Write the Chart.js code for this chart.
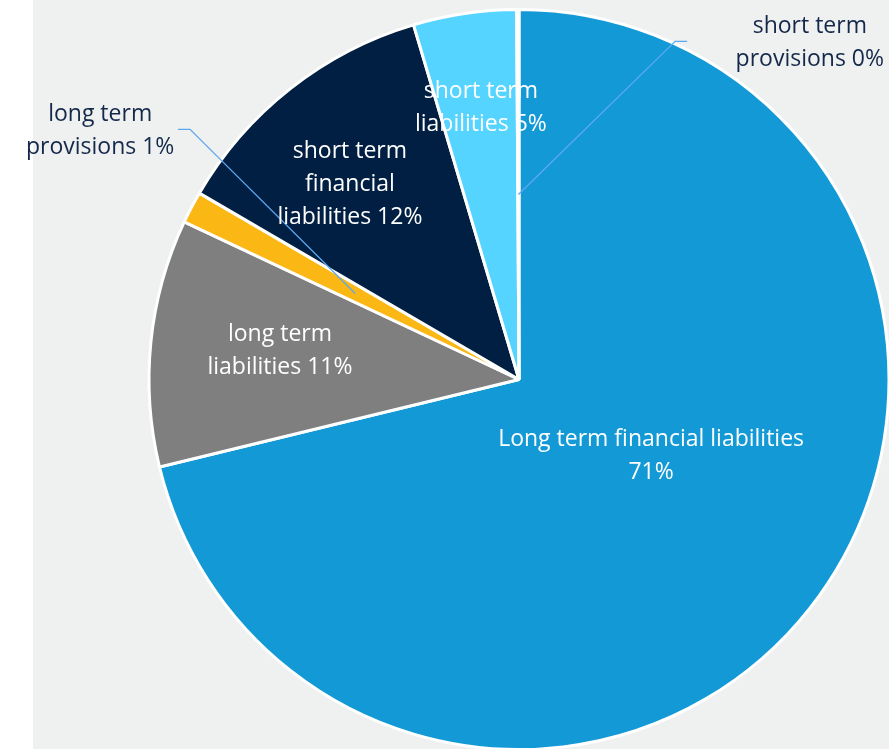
<!DOCTYPE html>
<html>
<head>
<meta charset="utf-8">
<script src="https://cdn.jsdelivr.net/npm/chart.js@4"></script>
<style>
  html, body { margin: 0; padding: 0; background: #ffffff; }
  #wrap { width: 889px; height: 749px; position: relative; }
</style>
</head>
<body>
<div id="wrap"><canvas id="graph" width="889" height="749"></canvas></div>
<script>
// categories + values (percent of total liabilities)
const categories = [
  'Long term financial liabilities',
  'long term liabilities',
  'long term provisions',
  'short term financial liabilities',
  'short term liabilities',
  'short term provisions'
];
const shares = [71.2, 10.8, 1.4, 12.0, 4.5, 0.1];
const colours = ['#139ad6', '#7f7f7f', '#fbb713', '#001f42', '#55d4ff', '#e46c0a'];

// label text split in lines (last line gets the percent)
const labelLines = [
  ['Long term financial liabilities'],
  ['long term', 'liabilities'],
  ['long term', 'provisions'],
  ['short term', 'financial', 'liabilities'],
  ['short term', 'liabilities'],
  ['short term', 'provisions']
];

// where each label sits, as fraction of the radius from the centre
const labelPos = [
  { x: 0.357, y: 0.207, inside: true, ownLine: true },
  { x: -0.646, y: -0.076, inside: true },
  { x: -1.132, y: -0.672, inside: false, elbow: [-0.889, -0.676], side: -1 },
  { x: -0.457, y: -0.527, inside: true },
  { x: -0.103, y: -0.734, inside: true },
  { x: 0.786, y: -0.909, inside: false, elbow: [0.422, -0.914], side: 1 }
];

const bgPlugin = {
  id: 'bg',
  beforeDraw(chart) {
    const c = chart.ctx;
    c.save();
    c.fillStyle = '#eff0f0';
    c.fillRect(33, 0, chart.width - 33, chart.height);
    c.restore();
  }
};

const labelPlugin = {
  id: 'sliceLabels',
  afterDatasetsDraw(chart) {
    const c = chart.ctx;
    const meta = chart.getDatasetMeta(0);
    const total = shares.reduce((a, b) => a + b, 0);
    c.save();
    c.font = '23px "Open Sans", sans-serif';
    c.textAlign = 'center';
    c.textBaseline = 'middle';
    meta.data.forEach((arc, i) => {
      const p = labelPos[i];
      const R = arc.outerRadius;
      const pct = Math.round(shares[i] / total * 100) + '%';
      let lines = labelLines[i].slice();
      if (p.ownLine) lines.push(pct);
      else lines[lines.length - 1] += ' ' + pct;
      const tx = arc.x + p.x * R;
      const ty = arc.y + p.y * R;
      if (!p.inside) {
        // leader line from half radius on the slice mid angle
        const mid = (arc.startAngle + arc.endAngle) / 2;
        const sx = arc.x + Math.cos(mid) * R * 0.5;
        const sy = arc.y + Math.sin(mid) * R * 0.5;
        const ex = arc.x + p.elbow[0] * R;
        const ey = arc.y + p.elbow[1] * R;
        c.strokeStyle = '#5ea8f2';
        c.lineWidth = 1.3;
        c.beginPath();
        c.moveTo(sx, sy);
        c.lineTo(ex, ey);
        c.lineTo(ex + p.side * 12, ey);
        c.stroke();
      }
      c.fillStyle = p.inside ? '#ffffff' : '#14284a';
      const lh = 33;
      const y0 = ty - (lines.length - 1) * lh / 2;
      lines.forEach((t, k) => c.fillText(t, tx, y0 + k * lh));
    });
    c.restore();
  }
};

new Chart(document.getElementById('graph'), {
  type: 'pie',
  data: {
    labels: categories,
    datasets: [{
      data: shares,
      backgroundColor: colours,
      borderColor: '#ffffff',
      borderWidth: 3
    }]
  },
  options: {
    responsive: false,
    animation: false,
    radius: 370,
    layout: { padding: { left: 149, right: 0, top: 10, bottom: 0 } },
    plugins: {
      legend: { display: false },
      tooltip: { enabled: false }
    }
  },
  plugins: [bgPlugin, labelPlugin]
});
</script>
</body>
</html>
